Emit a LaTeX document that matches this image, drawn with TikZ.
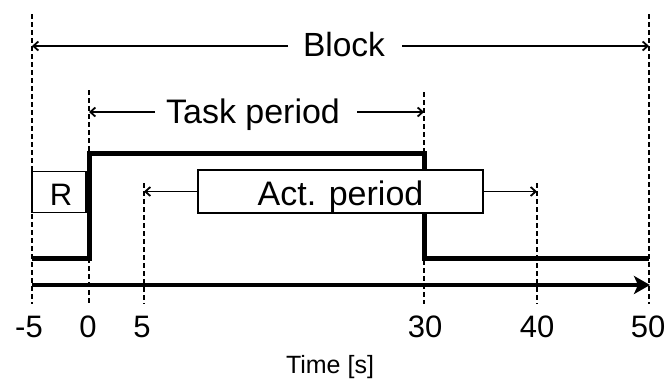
\documentclass[tikz,border=0pt]{standalone}
\usepackage{fontspec}
\setmainfont{Liberation Sans}
\usetikzlibrary{arrows.meta}
\begin{document}
\begin{tikzpicture}[x=1bp,y=-1bp,
  guide/.style={line width=2bp, dash pattern=on 4.5bp off 3.5bp},
  span/.style={line width=1.8bp, -{Straight Barb[length=5bp,width=9bp,line width=1.8bp]}},
  signal/.style={line width=5bp, line join=miter},
  axisline/.style={line width=4.5bp, -{Stealth[length=16bp,width=18bp,inset=4bp]}},
  lbl/.style={inner sep=0pt, anchor=base, font=\fontsize{34bp}{40bp}\selectfont},
  tick/.style={inner sep=0pt, anchor=base, font=\fontsize{31bp}{36bp}\selectfont},
  tagbox/.style={draw, line width=1.8bp, fill=white, inner sep=0pt}]
\useasboundingbox (0,0) rectangle (671,381);

% vertical time guides
\coordinate (gAt) at (32,14);   \coordinate (gAb) at (32,304);
\coordinate (gBt) at (89,90);   \coordinate (gBb) at (89,304);
\coordinate (gCt) at (144,183); \coordinate (gCb) at (144,304);
\coordinate (gDt) at (424,92);  \coordinate (gDb) at (424,304);
\coordinate (gEt) at (537,183); \coordinate (gEb) at (537,304);
\coordinate (gFt) at (649,14);  \coordinate (gFb) at (649,304);
\foreach \g in {A,B,C,D,E,F} \draw[guide] (g\g t) -- (g\g b);

% stimulus signal
\coordinate (s0) at (32,258);
\coordinate (s1) at (89,258);
\coordinate (s2) at (89,153);
\coordinate (s3) at (424,153);
\coordinate (s4) at (424,258);
\coordinate (s5) at (649,258);
\draw[signal] (s0) -- (s1) -- (s2) -- (s3) -- (s4) -- (s5);

% time axis
\coordinate (ax0) at (32,285);
\coordinate (ax1) at (650,285);
\draw[axisline] (ax0) -- (ax1);

% rest box
\node[tagbox, minimum width=54bp, minimum height=41bp] (rbox) at (59,192) {};
\node[inner sep=0pt, anchor=base, font=\fontsize{31bp}{36bp}\selectfont] (rlbl) at (61,205) {R};

% activation period
\node[tagbox, minimum width=285bp, minimum height=43bp] (actbox) at (340.5,191.5) {};
\node[lbl] (actlbl) at (340.5,205) {Act. period};
\coordinate (actL) at (144,191.5);
\coordinate (actR) at (537,191.5);
\draw[span] (actbox.west) -- (actL);
\draw[span] (actbox.east) -- (actR);

% task period
\node[lbl] (tasklbl) at (253,123) {Task period};
\coordinate (taskLs) at (155,112); \coordinate (taskL) at (89,112);
\coordinate (taskRs) at (357,112); \coordinate (taskR) at (424,112);
\draw[span] (taskLs) -- (taskL);
\draw[span] (taskRs) -- (taskR);

% block
\node[lbl, font=\fontsize{33.5bp}{40bp}\selectfont] (blocklbl) at (344,56) {Block};
\coordinate (blkLs) at (288,46); \coordinate (blkL) at (32,46);
\coordinate (blkRs) at (402,46); \coordinate (blkR) at (649,46);
\draw[span] (blkLs) -- (blkL);
\draw[span] (blkRs) -- (blkR);

% tick labels
\node[tick] (tm5) at (29,337) {-5};
\node[tick] (t0) at (88,337) {0};
\node[tick] (t5) at (142,337) {5};
\node[tick] (t30) at (425,337) {30};
\node[tick] (t40) at (537,337) {40};
\node[tick] (t50) at (648,337) {50};
\node[inner sep=0pt, anchor=base, font=\fontsize{25bp}{30bp}\selectfont] (xlabel) at (330,373) {Time [s]};
\end{tikzpicture}
\end{document}
